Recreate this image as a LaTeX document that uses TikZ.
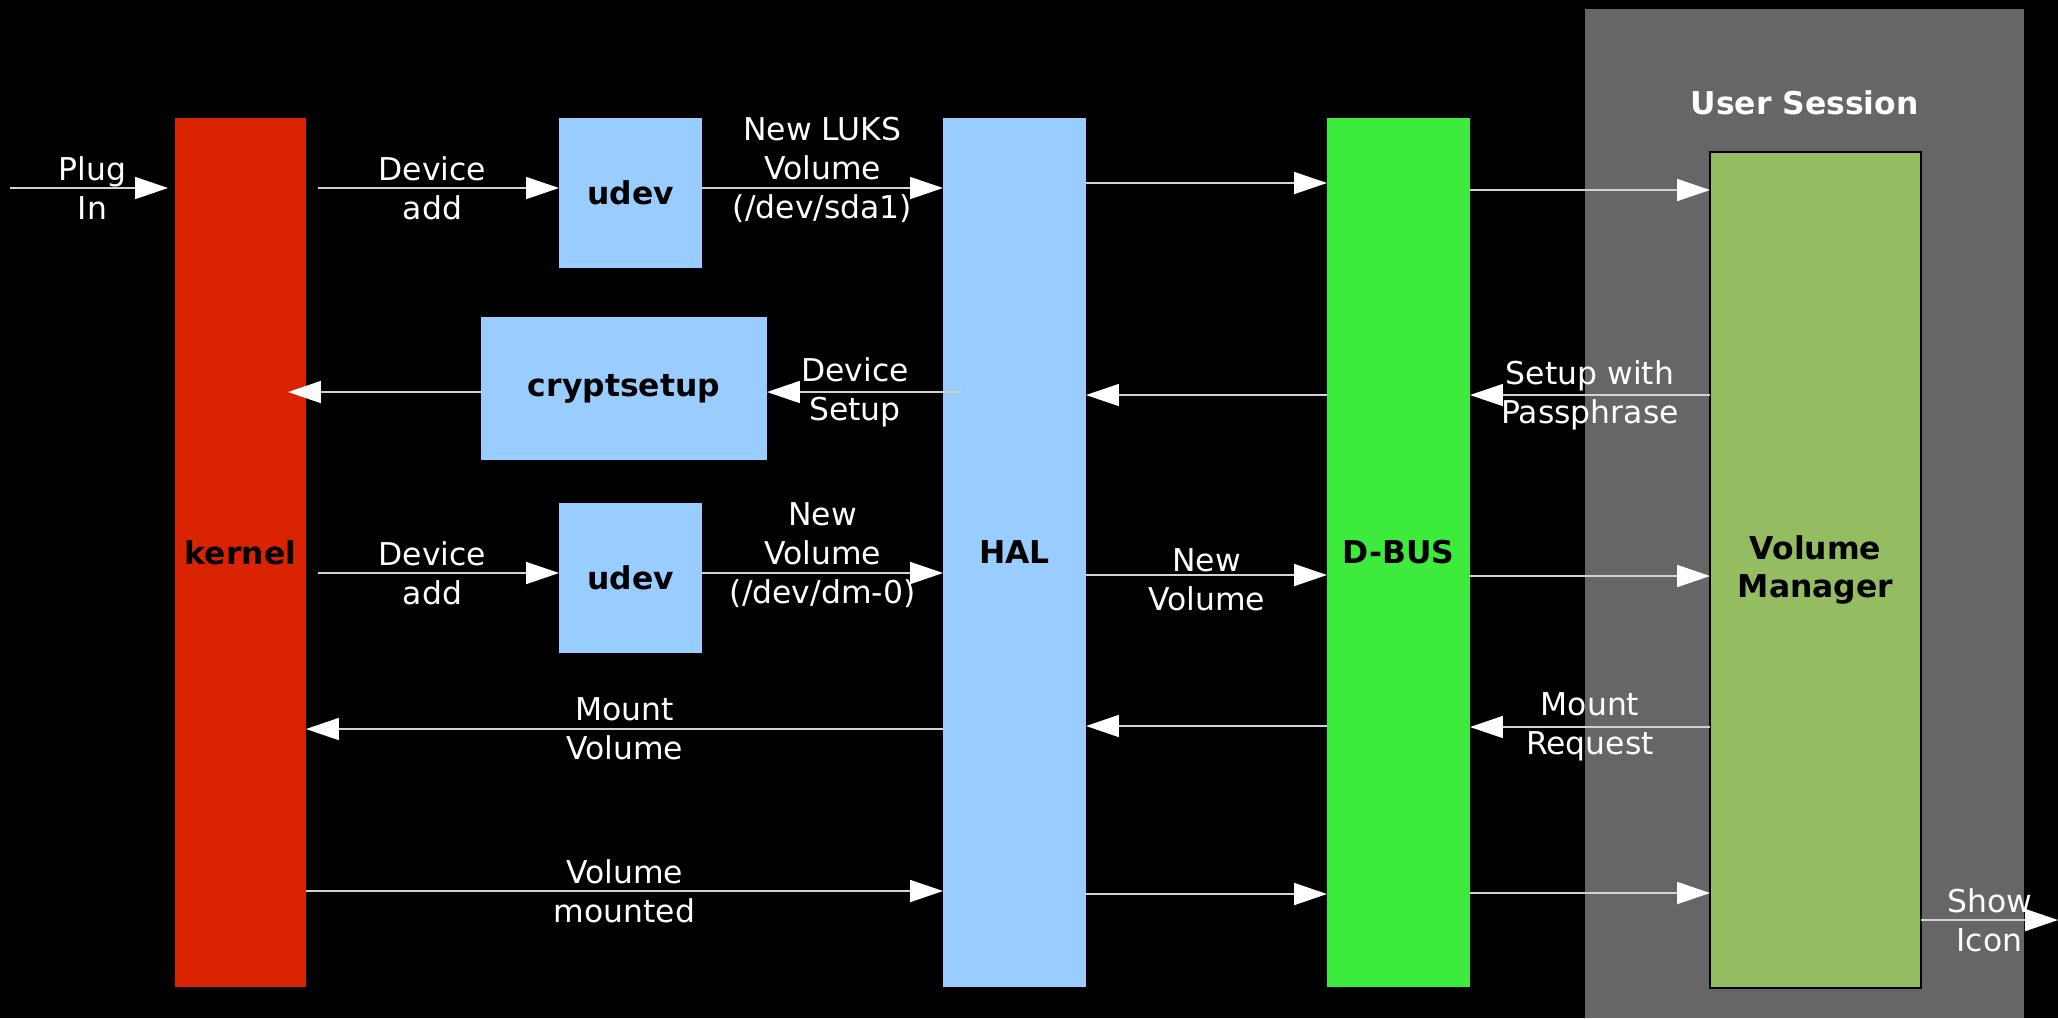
\documentclass[tikz,border=0pt]{standalone}
\usepackage{fontspec}
\setmainfont{DejaVu Sans}
\usetikzlibrary{arrows.meta}
\definecolor{kernelred}{RGB}{218,35,0}
\definecolor{halblue}{RGB}{153,204,255}
\definecolor{busgreen}{RGB}{61,235,61}
\definecolor{vmgreen}{RGB}{148,188,96}
\definecolor{sessiongray}{RGB}{102,102,102}
\definecolor{wiregray}{RGB}{210,210,210}
\newcommand{\lblfont}{\fontsize{11}{13.6}\selectfont}
\tikzstyle{block}=[inner sep=0pt, outer sep=0pt, text=black, font=\lblfont\bfseries]
\tikzstyle{flow}=[draw=wiregray, line width=0.5pt, -{Triangle[length=11.5pt,width=7.7pt,color=white]}]
\tikzstyle{msg}=[text=white, align=center, inner sep=0pt, font=\lblfont]
\tikzset{boxdim/.style 2 args={minimum width=#1*0.35pt, minimum height=#2*0.35pt}}

\begin{document}
\begin{tikzpicture}[x=0.35pt, y=-0.35pt]
  \useasboundingbox (0,0) rectangle (2058,1018);
  \fill[black] (0,0) rectangle (2058,1018);
  % user session
  \node[block, fill=sessiongray, boxdim={439}{1009}] (session) at (1804.5,513.5) {};
  \node[block, text=white] (sessiontitle) at (1804.5,103) {User Session};
  % blocks
  \node[block, fill=kernelred, boxdim={131}{869}] (kernel) at (240.5,552.5) {kernel};
  \node[block, fill=halblue, boxdim={143}{150}] (udevA) at (630.5,193) {udev};
  \node[block, fill=halblue, boxdim={286}{143}] (crypt) at (624,388.5) {cryptsetup};
  \node[block, fill=halblue, boxdim={143}{150}] (udevB) at (630.5,578) {udev};
  \node[block, fill=halblue, boxdim={143}{869}] (hal) at (1014.5,552.5) {HAL};
  \node[block, fill=busgreen, boxdim={143}{869}] (dbus) at (1398.5,552.5) {D-BUS};
  \node[block, fill=vmgreen, draw=black, line width=0.4pt, boxdim={211}{836}, align=center] (vm) at (1815.5,570) {Volume\\Manager};
  \coordinate (plug) at (10,188);
  \coordinate (iconout) at (2058,920);

  % plug in
  \draw[flow, shorten >=2.45pt] (plug) -- node[msg] (pluglbl) {Plug\\In} (kernel.west |- plug);
  % first row
  \draw[flow, shorten <=4.2pt] (kernel.east |- 0,188) -- node[msg] (devaddA) {Device\\add} (udevA.west |- 0,188);
  \draw[flow] (udevA.east |- 0,188) -- node[msg, yshift=6.3pt] (lukslbl) {New LUKS\\Volume\\(/dev/sda1)} (hal.west |- 0,188);
  \draw[flow] (hal.east |- 0,183) -- (dbus.west |- 0,183);
  \draw[flow] (dbus.east |- 0,190) -- (vm.west |- 0,190);
  % setup
  \draw[flow, shorten >=-6.3pt] (crypt.west |- 0,392) -- (kernel.east |- 0,392);
  \draw[flow, shorten <=-6.3pt] (hal.west |- 0,392) -- node[msg] (setuplbl) {Device\\Setup} (crypt.east |- 0,392);
  \draw[flow] (dbus.west |- 0,395) -- (hal.east |- 0,395);
  \draw[flow] (vm.west |- 0,395) -- node[msg] (passlbl) {Setup with\\Passphrase} (dbus.east |- 0,395);
  % second row
  \draw[flow, shorten <=4.2pt] (kernel.east |- 0,573) -- node[msg] (devaddB) {Device\\add} (udevB.west |- 0,573);
  \draw[flow] (udevB.east |- 0,573) -- node[msg, yshift=6.3pt] (dmlbl) {New\\Volume\\(/dev/dm-0)} (hal.west |- 0,573);
  \draw[flow] (hal.east |- 0,575) -- node[msg, yshift=-1.75pt] (newvollbl) {New\\Volume} (dbus.west |- 0,575);
  \draw[flow] (dbus.east |- 0,576) -- (vm.west |- 0,576);
  % mount
  \draw[flow] (hal.west |- 0,729) -- node[msg] (mountlbl) {Mount\\Volume} (kernel.east |- 0,729);
  \draw[flow] (dbus.west |- 0,726) -- (hal.east |- 0,726);
  \draw[flow] (vm.west |- 0,727) -- node[msg] (reqlbl) {Mount\\Request} (dbus.east |- 0,727);
  % mounted
  \draw[flow] (kernel.east |- 0,891) -- node[msg] (mountedlbl) {Volume\\mounted} (hal.west |- 0,891);
  \draw[flow] (hal.east |- 0,894) -- (dbus.west |- 0,894);
  \draw[flow] (dbus.east |- 0,893) -- (vm.west |- 0,893);
  \draw[flow] (vm.east |- iconout) -- node[msg] (iconlbl) {Show\\Icon} (iconout);
\end{tikzpicture}
\end{document}
